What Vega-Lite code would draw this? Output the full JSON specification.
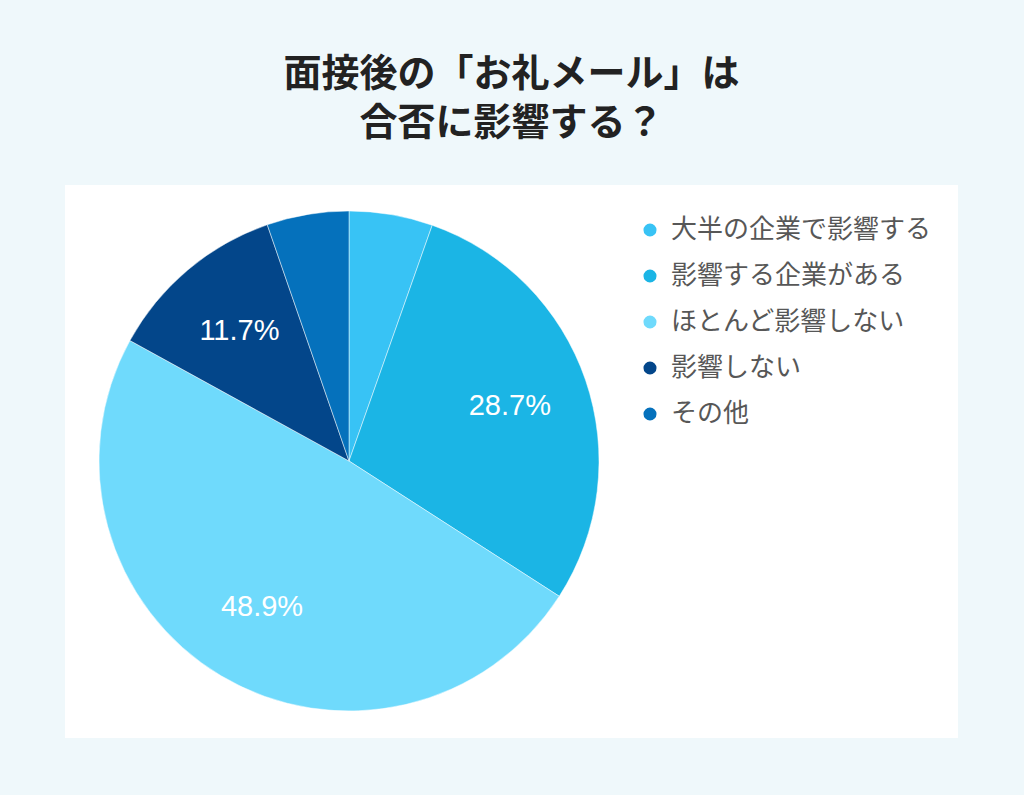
{
  "$schema": "https://vega.github.io/schema/vega-lite/v6.json",
  "width": 893,
  "height": 553,
  "autosize": {"type": "none"},
  "padding": {"left": 65, "top": 185, "right": 66, "bottom": 57},
  "background": "#eff8fb",
  "view": {"fill": "#ffffff", "stroke": null},
  "title": {
    "text": ["面接後の「お礼メール」は", "合否に影響する？"],
    "font": "Noto Sans CJK JP",
    "fontSize": 38,
    "fontWeight": "bold",
    "color": "#222222",
    "anchor": "middle",
    "offset": 42,
    "lineHeight": 49
  },
  "data": {
    "values": [
      {"category": "大半の企業で影響する", "value": 5.4, "order": 1, "label": ""},
      {"category": "影響する企業がある", "value": 28.7, "order": 2, "label": "28.7%"},
      {"category": "ほとんど影響しない", "value": 48.9, "order": 3, "label": "48.9%"},
      {"category": "影響しない", "value": 11.7, "order": 4, "label": "11.7%"},
      {"category": "その他", "value": 5.3, "order": 5, "label": ""}
    ]
  },
  "encoding": {
    "theta": {"field": "value", "type": "quantitative", "stack": true},
    "order": {"field": "order", "type": "quantitative"}
  },
  "layer": [
    {
      "mark": {"type": "arc", "outerRadius": 250, "x": 284, "y": 276, "stroke": "#ffffff", "strokeWidth": 0.8, "strokeOpacity": 0.6},
      "encoding": {
        "color": {
          "field": "category",
          "type": "nominal",
          "scale": {
            "domain": ["大半の企業で影響する", "影響する企業がある", "ほとんど影響しない", "影響しない", "その他"],
            "range": ["#38c3f5", "#1bb5e5", "#6fdafc", "#03468a", "#0571bc"]
          },
          "legend": {
            "orient": "none",
            "legendX": 572,
            "legendY": 32,
            "title": null,
            "symbolType": "circle",
            "symbolSize": 170,
            "symbolStrokeWidth": 0,
            "labelFontSize": 26,
            "labelFont": "Noto Sans CJK JP",
            "labelColor": "#575757",
            "labelOffset": 8,
            "rowPadding": 20,
            "labelLimit": 400
          }
        }
      }
    },
    {
      "mark": {"type": "text", "radius": 170, "x": 284, "y": 276, "color": "#ffffff", "fontSize": 29, "font": "Liberation Sans"},
      "encoding": {"text": {"field": "label", "type": "nominal"}}
    }
  ]
}
